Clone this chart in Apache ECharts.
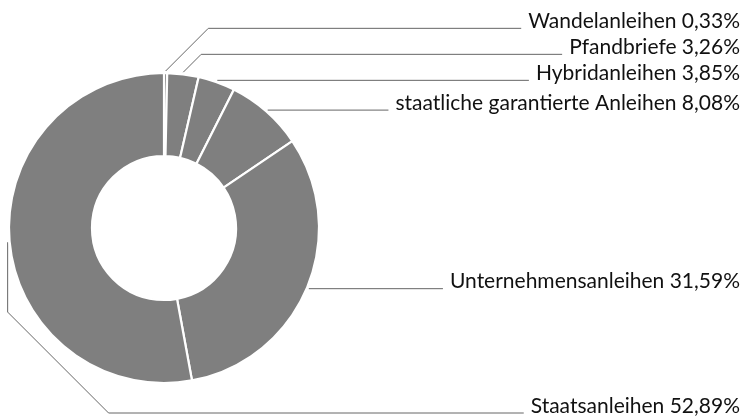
<!DOCTYPE html>
<html>
<head>
<meta charset="utf-8">
<script src="https://cdn.jsdelivr.net/npm/echarts@6/dist/echarts.min.js"></script>
<style>
  html, body { margin: 0; background: #fff; }
  #chart { width: 742px; height: 416px; }
</style>
</head>
<body>
<div id="chart"></div>
<script>
// Anleihenarten und ihre Anteile in %
const categories = ['Wandelanleihen', 'Pfandbriefe', 'Hybridanleihen',
  'staatliche garantierte Anleihen', 'Unternehmensanleihen', 'Staatsanleihen'];
const shares = [0.33, 3.26, 3.85, 8.08, 31.59, 52.89];

const chart = echarts.init(document.getElementById('chart'));
const fmt = v => v.toFixed(2).replace('.', ',') + '%';

chart.setOption({
  animation: false,
  series: [{
    type: 'pie',
    center: [164, 228],
    radius: [72, 155],
    startAngle: 90,
    clockwise: true,
    itemStyle: { color: '#7f7f7f', borderColor: '#fff', borderWidth: 2.2 },
    label: {
      show: true,
      position: 'outside',
      overflow: 'none',
      formatter: p => p.name + ' ' + fmt(p.value),
      fontFamily: 'Lato',
      fontSize: 21,
      color: '#111'
    },
    labelLine: { show: true, lineStyle: { color: '#666', width: 1 } },
    emphasis: { disabled: true },
    data: categories.map((name, i) => ({ name: name, value: shares[i] }))
  }]
});

// Leitlinien aus dem berechneten Pie-Layout ableiten
const pieData = chart.getModel().getSeriesByIndex(0).getData();
const rowGap = 26;
const rightEdge = 740;
const guides = [];
const rightSide = [];
let lay0 = null;

for (let i = 0; i < shares.length; i++) {
  const lay = pieData.getItemLayout(i);
  lay0 = lay;
  const mid = (lay.startAngle + lay.endAngle) / 2;
  const sx = lay.cx + (lay.r + 2) * Math.cos(mid);
  const sy = lay.cy + (lay.r + 2) * Math.sin(mid);
  guides[i] = { sx: sx, sy: sy, left: sx < lay.cx };
  if (sx >= lay.cx) rightSide.push(i);
}

// rechte Seite: von unten nach oben stapeln
rightSide.sort((a, b) => guides[b].sy - guides[a].sy);
let prev = Infinity;
rightSide.forEach(i => {
  const g = guides[i];
  g.y = Math.min(g.sy, prev - rowGap);
  prev = g.y;
  if (g.sy - g.y > 0.5) {
    g.pts = [[g.sx, g.sy], [g.sx + (g.sy - g.y), g.y]];
  } else {
    g.y = g.sy;
    g.pts = [[g.sx, g.sy]];
  }
});

// linke Seite: unter dem Ring nach rechts führen
let bottomY = lay0.cy + lay0.r + 30;
const c = lay0.cx - lay0.cy - (lay0.r + 15) * Math.SQRT2;
guides.forEach(g => {
  if (!g.left) return;
  g.y = bottomY;
  g.pts = [[g.sx, g.sy], [g.sx, g.sx - c], [g.y + c, g.y]];
  bottomY += rowGap;
});

chart.setOption({
  series: [{
    labelLayout: function (p) {
      const g = guides[p.dataIndex];
      const endX = rightEdge - p.labelRect.width - 7;
      return {
        x: rightEdge,
        y: g.y - 7,
        align: 'right',
        verticalAlign: 'middle',
        labelLinePoints: g.pts.concat([[endX, g.y]])
      };
    }
  }]
});
</script>
</body>
</html>
